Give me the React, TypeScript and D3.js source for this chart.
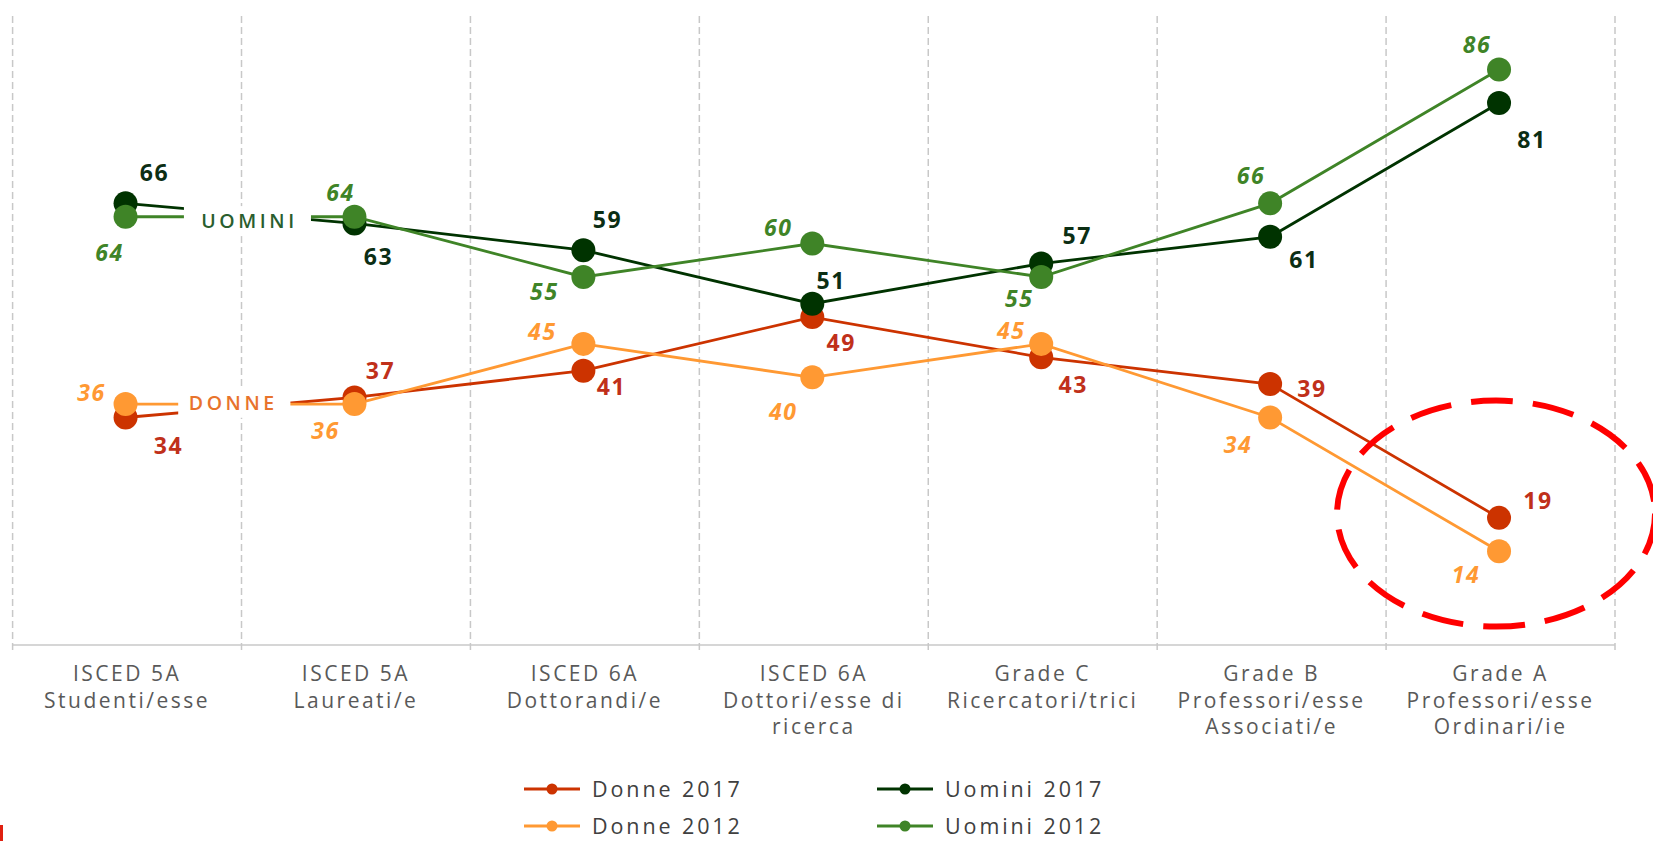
import React from "react";
import * as d3 from "d3";

const categories: string[][] = [
  ["ISCED 5A", "Studenti/esse"],
  ["ISCED 5A", "Laureati/e"],
  ["ISCED 6A", "Dottorandi/e"],
  ["ISCED 6A", "Dottori/esse di", "ricerca"],
  ["Grade C", "Ricercatori/trici"],
  ["Grade B", "Professori/esse", "Associati/e"],
  ["Grade A", "Professori/esse", "Ordinari/ie"],
];

const donne2017 = [34, 37, 41, 49, 43, 39, 19];
const donne2012 = [36, 36, 45, 40, 45, 34, 14];
const uomini2017 = [66, 63, 59, 51, 57, 61, 81];
const uomini2012 = [64, 64, 55, 60, 55, 66, 86];

const seriesNames = ["Donne 2017", "Donne 2012", "Uomini 2017", "Uomini 2012"];

// label placement offsets (layout config)
const labelOffsets: Record<string, [number, number][]> = {
  "Donne 2017": [[42, 28], [25, -26], [27, 16], [28, 26], [31, 28], [41, 5], [38, -17]],
  "Donne 2012": [[-35, -11], [-30, 27], [-42, -12], [-30, 35], [-31, -13], [-33, 27], [-34, 24]],
  "Uomini 2017": [[28, -30], [23, 34], [23, -30], [18, -23], [35, -28], [33, 23], [32, 37]],
  "Uomini 2012": [[-17, 36], [-15, -24], [-40, 15], [-35, -16], [-23, 22], [-20, -27], [-23, -25]],
};

const W = 1653;
const H = 841;
const FONT = "'Century Gothic', 'Open Sans', 'Liberation Sans', sans-serif";

export default function App() {
  const series = [
    { name: seriesNames[0], values: donne2017, color: "#CC3300", labelColor: "#C0301A", italic: false },
    { name: seriesNames[1], values: donne2012, color: "#FF9933", labelColor: "#FF9933", italic: true },
    { name: seriesNames[2], values: uomini2017, color: "#003300", labelColor: "#0B2E14", italic: false },
    { name: seriesNames[3], values: uomini2012, color: "#3F8427", labelColor: "#3F8427", italic: true },
  ];
  const drawOrder = [series[0], series[1], series[2], series[3]];

  const idx = categories.map((_, i) => i);
  const xBand = d3.scaleBand<number>().domain(idx).range([12.6, 1615]).paddingInner(0).paddingOuter(0);
  const bw = xBand.bandwidth();
  const xc = (i: number) => (xBand(i) as number) + bw / 2 - 1.5;
  const y = d3.scaleLinear().domain([0, 94]).range([645, 16]);

  const line = d3
    .line<number>()
    .x((_, i) => xc(i))
    .y((d) => y(d));

  const gridXs = [...idx.map((i) => xBand(i) as number), xBand.range()[1]];

  const x0 = xc(0);
  const x1 = xc(1);
  const span = x1 - x0;
  const uGap = [x0 + span * 0.255, x0 + span * 0.81];
  const dGap = [x0 + span * 0.23, x0 + span * 0.72];
  const uY = (y(uomini2017[1]) + y(uomini2012[1])) / 2 + 1;
  const dY = (y(donne2017[1]) + y(donne2012[1])) / 2 + 2;

  const legendItems = [
    { s: series[0], col: 0, row: 0 },
    { s: series[2], col: 1, row: 0 },
    { s: series[1], col: 0, row: 1 },
    { s: series[3], col: 1, row: 1 },
  ];

  return (
    <svg width={W} height={H} style={{ position: "absolute", left: 0, top: 0, background: "#fff" }} fontFamily={FONT}>
      <rect x={0} y={0} width={W} height={H} fill="#fff" />
      {gridXs.map((gx, i) => (
        <line key={"g" + i} x1={gx} x2={gx} y1={y(94)} y2={651} stroke="#C8C8C8" strokeWidth={1.5} strokeDasharray="7,4" />
      ))}
      <line x1={12.6} x2={1615} y1={y(0)} y2={y(0)} stroke="#C8C8C8" strokeWidth={1.5} />

      {drawOrder.map((s) => (
        <path key={"l" + s.name} d={line(s.values) as string} fill="none" stroke={s.color} strokeWidth={2.8} />
      ))}

      <rect x={uGap[0]} y={uY - 15} width={uGap[1] - uGap[0]} height={30} fill="#fff" />
      <rect x={dGap[0]} y={dY - 15} width={dGap[1] - dGap[0]} height={30} fill="#fff" />
      <text x={(uGap[0] + uGap[1]) / 2 + 2} y={uY} dy="0.36em" textAnchor="middle" fontSize={19.5} fontWeight={600} fill="#2A5E2E" letterSpacing={3.6}>
        UOMINI
      </text>
      <text x={(dGap[0] + dGap[1]) / 2 - 1} y={dY} dy="0.36em" textAnchor="middle" fontSize={19.5} fontWeight={600} fill="#E8732C" letterSpacing={3.6}>
        DONNE
      </text>

      {drawOrder.map((s) =>
        s.values.map((v, i) => <circle key={"c" + s.name + i} cx={xc(i)} cy={y(v)} r={12} fill={s.color} />)
      )}

      {series.map((s) =>
        s.values.map((v, i) => {
          const [dx, dy] = labelOffsets[s.name][i];
          return (
            <text
              key={"t" + s.name + i}
              x={xc(i) + dx + 1}
              y={y(v) + dy}
              dy="0.35em"
              textAnchor="middle"
              fontSize={23}
              fontWeight={700}
              letterSpacing={1.6}
              fontStyle={s.italic ? "italic" : "normal"}
              fill={s.labelColor}
            >
              {v}
            </text>
          );
        })
      )}

      {categories.map((lines, i) => (
        <text key={"cat" + i} x={xc(i) + 1.5} y={674} textAnchor="middle" fontSize={21} fill="#595959" letterSpacing={2.5}>
          {lines.map((ln, j) => (
            <tspan key={j} x={xc(i) + 1.5} dy={j === 0 ? "0.35em" : 26.5}>
              {ln}
            </tspan>
          ))}
        </text>
      ))}

      <ellipse
        cx={xc(6) - 3}
        cy={(y(donne2017[6]) + y(donne2012[6])) / 2 - 21}
        rx={159}
        ry={113}
        fill="none"
        stroke="#FF0000"
        strokeWidth={6}
        strokeDasharray="42,20"
      />

      {legendItems.map(({ s, col, row }) => {
        const lx = 524 + col * 353;
        const ly = 789 + row * 37;
        return (
          <g key={"lg" + s.name}>
            <line x1={lx} x2={lx + 56} y1={ly} y2={ly} stroke={s.color} strokeWidth={3} />
            <circle cx={lx + 28} cy={ly} r={5.5} fill={s.color} />
            <text x={lx + 68} y={ly} dy="0.36em" fontSize={21.5} fill="#404040" letterSpacing={2.9}>
              {s.name}
            </text>
          </g>
        );
      })}

      <rect x={0} y={825} width={3} height={16} fill="#E02010" />
    </svg>
  );
}
